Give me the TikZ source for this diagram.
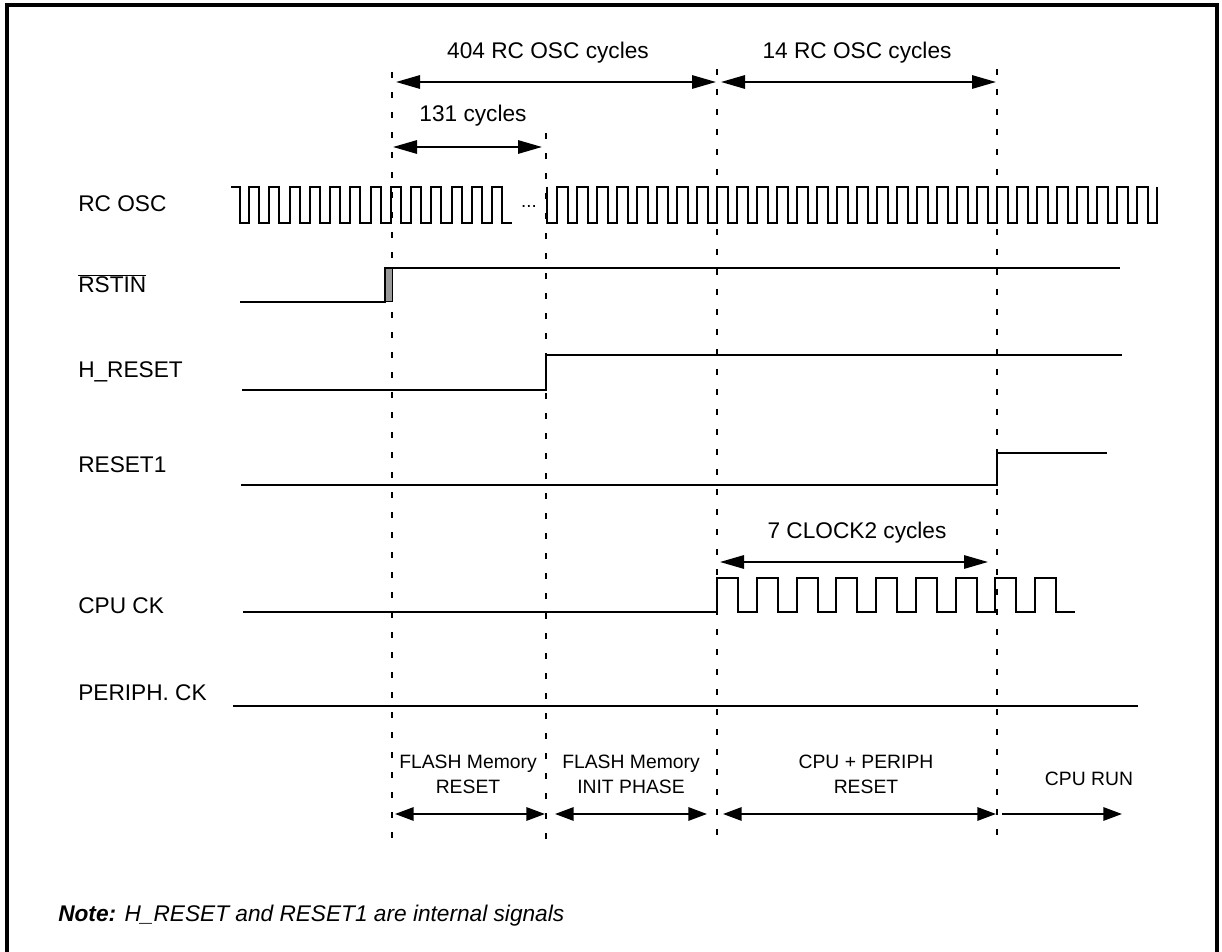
\documentclass[tikz,border=0pt]{standalone}
\usepackage{fontspec}
\setmainfont{Liberation Sans}
\usetikzlibrary{arrows.meta}

\tikzset{
  sig/.style={line width=1.5pt, line join=miter},
  guide/.style={line width=1.5pt, dash pattern=on 4.5pt off 10.5pt},
  span/.style={line width=1.5pt, {Triangle[length=18pt,width=10pt]}-{Triangle[length=18pt,width=10pt]}},
  phasespan/.style={line width=1.5pt, {Triangle[length=14pt,width=10pt]}-{Triangle[length=14pt,width=10pt]}},
  phasespanr/.style={line width=1.5pt, -{Triangle[length=14pt,width=10pt]}},
  lbl/.style={inner sep=0.75pt, font=\fontsize{17}{20}\selectfont},
  phase/.style={inner sep=0.75pt, align=center, font=\fontsize{14.5}{18.75}\selectfont},
}

\begin{document}
\begin{tikzpicture}[x=0.75pt,y=0.75pt,yscale=-1,xscale=1]
    \useasboundingbox (0,0) rectangle (1222,952);

    %Shape: Frame
    \draw [line width=3pt] (7,952) -- (7,5) -- (1217,5) -- (1217,952);

    %Marks in time
    \coordinate (m1top) at (392,72);   \coordinate (m1bot) at (392,842);
    \coordinate (m2top) at (546,133);  \coordinate (m2bot) at (546,842);
    \coordinate (m3top) at (717,69);   \coordinate (m3bot) at (717,842);
    \coordinate (m4top) at (997,69);   \coordinate (m4bot) at (997,842);
    \draw [guide] (m1top) -- (m1bot);
    \draw [guide] (m2top) -- (m2bot);
    \draw [guide] (m3top) -- (m3bot);
    \draw [guide] (m4top) -- (m4bot);

    %Spans on top
    \coordinate (osc404l) at (396,82);  \coordinate (osc404r) at (716,82);
    \coordinate (osc14l) at (721,82);   \coordinate (osc14r) at (996,82);
    \coordinate (cyc131l) at (393,147); \coordinate (cyc131r) at (542,147);
    \coordinate (clk7l) at (720,562);   \coordinate (clk7r) at (988,562);
    \draw [span] (osc404l) -- (osc404r);
    \draw [span] (osc14l) -- (osc14r);
    \draw [span] (cyc131l) -- (cyc131r);
    \draw [span] (clk7l) -- (clk7r);

    % Text Node
    \node (t404) at (548,53) [lbl] {404 RC OSC cycles};
    % Text Node
    \node (t14) at (857,53) [lbl] {14 RC OSC cycles};
    % Text Node
    \node (t131) at (473,116) [lbl] {131 cycles};
    % Text Node
    \node (t7) at (857,533) [lbl] {7 CLOCK2 cycles};

    %Signal names
    \node (nosc) at (77,212) [lbl, anchor=base west] {RC OSC};
    \node (nrst) at (77,293) [lbl, anchor=base west] {$\overline{\mbox{RSTIN}}$};
    \node (nhrst) at (77,378) [lbl, anchor=base west] {H\_RESET};
    \node (nrst1) at (77,473) [lbl, anchor=base west] {RESET1};
    \node (ncpu) at (77,613) [lbl, anchor=base west] {CPU CK};
    \node (nper) at (77,700) [lbl, anchor=base west] {PERIPH. CK};

    %Waveform: RC OSC
    \draw [sig] (231,187) -- (240,187) -- (240,223)
      \foreach \k in {0,...,12} { -- ({249+20.25*\k},223) -- ({249+20.25*\k},187) -- ({259+20.25*\k},187) -- ({259+20.25*\k},223) }
      -- (512,223);
    \node (dots) at (529,208) [inner sep=0pt, anchor=base, font=\fontsize{14}{16}\selectfont] {...};
    \draw [sig] (547,187) -- (547,223)
      \foreach \k in {0,...,29} { -- ({556.7+20*\k},223) -- ({556.7+20*\k},187) -- ({568+20*\k},187) -- ({568+20*\k},223) }
      -- (1156.7,223) -- (1156.7,187);

    %Waveform: RSTIN
    \filldraw [fill=black!40, line width=0.75pt] (385,268) rectangle (392,302);
    \draw [sig] (240,302) -- (385,302) -- (385,268) -- (1120,268);

    %Waveform: H_RESET
    \draw [sig] (242,390) -- (546,390) -- (546,355) -- (1122,355);

    %Waveform: RESET1
    \draw [sig] (241,485) -- (997,485) -- (997,453) -- (1107,453);

    %Waveform: CPU CK
    \draw [sig] (243,612)
      \foreach \k in {0,...,8} { -- ({717+39.75*\k},612) -- ({717+39.75*\k},578) -- ({738+39.75*\k},578) -- ({738+39.75*\k},612) }
      -- (1075,612);

    %Waveform: PERIPH. CK
    \draw [sig] (233,706) -- (1138,706);

    %Phases at the bottom
    \coordinate (fr1) at (395,814);  \coordinate (fr2) at (545,814);
    \coordinate (fi1) at (555,814);  \coordinate (fi2) at (707,814);
    \coordinate (cp1) at (723,814);  \coordinate (cp2) at (996,814);
    \coordinate (cr1) at (1002,814); \coordinate (cr2) at (1122,814);
    \draw [phasespan] (fr1) -- (fr2);
    \draw [phasespan] (fi1) -- (fi2);
    \draw [phasespan] (cp1) -- (cp2);
    \draw [phasespanr] (cr1) -- (cr2);

    % Text Node
    \node (pfr) at (468,774) [phase] {FLASH Memory\\RESET};
    % Text Node
    \node (pfi) at (631,774) [phase] {FLASH Memory\\INIT PHASE};
    % Text Node
    \node (pcp) at (866,774) [phase] {CPU + PERIPH\\RESET};
    % Text Node
    \node (pcr) at (1089,779) [phase] {CPU RUN};

    % Text Node
    \node (note) at (57,921) [lbl, anchor=base west] {\itshape\textbf{Note:} H\_RESET and RESET1 are internal signals};

\end{tikzpicture}
\end{document}
